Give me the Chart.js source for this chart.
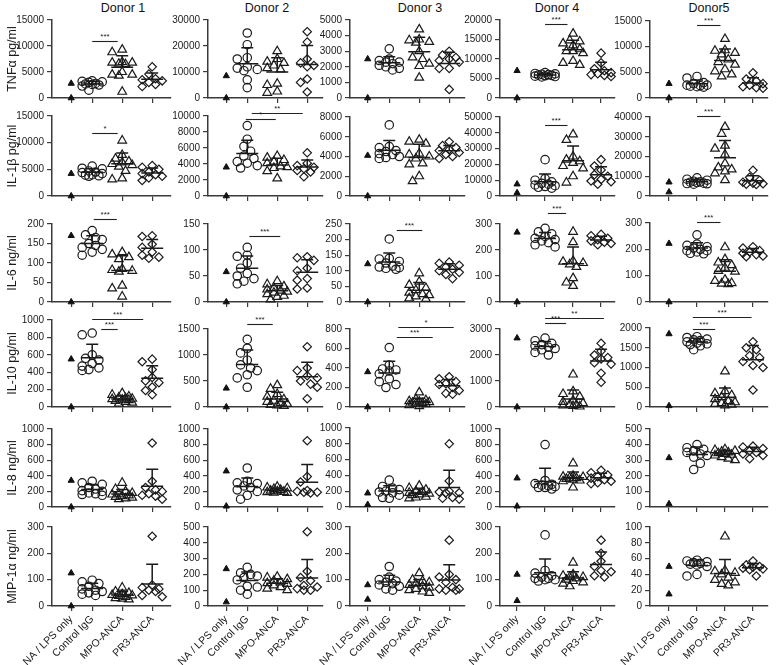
<!DOCTYPE html>
<html>
<head>
<meta charset="utf-8">
<script src="https://cdn.jsdelivr.net/npm/chart.js@4.4.1/dist/chart.umd.min.js"></script>
<style>
  body { margin: 0; background: #fff; }
  #fig { position: relative; width: 780px; height: 665px; overflow: hidden; font-family: 'Liberation Sans', Arial, sans-serif; }
  #fig canvas { position: absolute; }
  .donor { position: absolute; top: 1px; font-size: 12.5px; color: #111; transform: translateX(-50%); white-space: nowrap; }
</style>
</head>
<body>
<div id="fig"></div>
<script>
const donorNames = ['Donor 1', 'Donor 2', 'Donor 3', 'Donor 4', 'Donor5'];
const catLabels = ['NA / LPS only', 'Control IgG', 'MPO-ANCA', 'PR3-ANCA'];

// TNFa pg/ml
const tnfMax = [15000, 30000, 5000, 20000, 15000];
const tnfStep = [5000, 10000, 1000, 5000, 5000];
const tnfNA = [[0, 2800], [0, 8500], [0, 2500], [0, 7000], [0, 2800]];
const tnfCtl = [
  [3300, 3200, 3100, 3000, 2800, 2700, 2600, 2500, 2300, 1500],
  [25000, 20500, 15500, 15000, 12000, 11500, 11000, 10500, 7000, 4000],
  [3150, 2500, 2400, 2300, 2300, 2200, 2100, 2000, 1900, 1800],
  [6500, 6300, 6200, 6100, 6000, 5900, 5800, 5700, 5600, 5500, 5400],
  [4200, 3900, 3000, 2800, 2500, 2500, 2400, 2300, 2200, 2100]
];
const tnfMpo = [
  [9300, 8800, 6900, 6800, 6800, 6600, 6500, 5000, 4500, 4500, 4300, 1200],
  [18000, 15000, 14000, 13500, 12500, 11500, 11000, 5500, 5000, 2500, 2000],
  [4400, 3750, 3700, 3600, 3550, 3000, 2600, 2500, 2200, 2050, 1300],
  [16500, 14800, 14500, 14000, 13500, 12500, 12000, 12000, 11500, 9500, 9000, 8500],
  [11500, 9300, 9200, 8800, 8500, 7500, 7000, 6500, 5600, 5200, 4600, 4200]
];
const tnfPr3 = [
  [6000, 4600, 3700, 3500, 3300, 3000, 2600, 2200],
  [25500, 21500, 15000, 13500, 12500, 12000, 7300, 6000, 2300],
  [3000, 2750, 2600, 2500, 2400, 2300, 1900, 1900, 550],
  [11500, 9000, 7500, 7000, 6500, 6200, 6000, 5800, 5500],
  [4900, 3700, 3300, 2800, 2500, 2200, 2000, 1900]
];
const tnfSig = [[[1, 1.85, 10900, '***']], [], [], [[1, 1.8, 18900, '***']], [[1, 1.84, 14200, '***']]];

// IL-1b pg/ml
const ilbMax = [15000, 10000, 8000, 50000, 40000];
const ilbStep = [5000, 2000, 2000, 10000, 10000];
const ilbNA = [[0, 4200], [0, 3600], [0, 4100], [2000, 7500], [2000, 7000]];
const ilbCtl = [
  [5600, 5200, 5100, 4700, 4500, 4400, 4200, 4000, 3900, 3800, 3700],
  [8800, 7100, 6200, 5600, 5000, 4700, 4300, 4100, 3800, 3500],
  [7200, 5000, 4900, 4600, 4500, 4300, 4200, 4000, 3900, 3800],
  [23000, 11000, 10000, 9000, 8000, 7500, 7000, 6500, 6000, 5500, 5000],
  [9200, 8500, 8000, 7500, 7200, 7000, 6800, 6500, 6300, 6200, 6000]
];
const ilbMpo = [
  [10400, 7700, 7000, 6500, 6300, 6000, 5800, 5500, 4700, 3300, 3100],
  [5000, 4800, 4500, 4300, 4100, 3700, 3600, 3500, 3100, 2200],
  [5700, 5500, 5300, 4300, 4200, 4000, 3800, 3300, 3200, 2000, 1500],
  [39000, 35500, 25000, 23000, 22000, 21000, 19000, 17500, 12500, 8500],
  [35000, 31500, 25500, 24000, 21000, 16500, 14500, 13500, 12500, 11500, 8000]
];
const ilbPr3 = [
  [5700, 5400, 5000, 4500, 4200, 4000, 3700, 3400, 2900],
  [5400, 4100, 3800, 3600, 3400, 3200, 3000, 2400],
  [5500, 5100, 4900, 4700, 4600, 4400, 4200, 4000, 3800],
  [23000, 19000, 16500, 13500, 12500, 10500, 9500, 9000, 7500],
  [13000, 9500, 8000, 7000, 6500, 6200, 6000, 5800]
];
const ilbSig = [[[1, 1.85, 11900, '*']], [[0.95, 1.95, 9600, '*'], [1.15, 2.85, 10400, '**']], [], [[1, 1.8, 44800, '***']], [[1, 1.84, 40300, '***']]];

// IL-6 ng/ml
const il6Max = [200, 150, 250, 300, 300];
const il6Step = [50, 50, 50, 100, 100];
const il6NA = [[0, 170], [0, 58], [0, 122], [0, 268], [0, 222]];
const il6Ctl = [
  [183, 172, 165, 160, 150, 145, 140, 135, 128, 120],
  [105, 90, 88, 75, 65, 55, 50, 45, 40, 35],
  [202, 140, 138, 130, 125, 115, 112, 110, 108, 105],
  [283, 270, 262, 252, 245, 240, 235, 228, 220, 212],
  [255, 220, 215, 210, 205, 200, 195, 195, 190, 185, 183]
];
const il6Mpo = [
  [128, 122, 115, 110, 85, 82, 80, 78, 42, 35, 14],
  [40, 34, 30, 27, 24, 22, 20, 18, 15, 12, 10, 5],
  [92, 65, 55, 45, 38, 30, 25, 22, 18, 12, 10],
  [270, 230, 158, 155, 150, 145, 135, 92, 75, 62],
  [208, 163, 150, 140, 130, 118, 115, 85, 80, 72, 70, 68]
];
const il6Pr3 = [
  [170, 168, 148, 140, 128, 120, 115, 112],
  [87, 85, 80, 65, 60, 45, 42, 27, 25],
  [128, 124, 118, 112, 105, 100, 95, 88, 75],
  [260, 255, 245, 240, 235, 230, 225, 220],
  [210, 205, 195, 190, 185, 180, 175, 172]
];
const il6Sig = [[[1.05, 1.82, 212, '***']], [[1.07, 2.1, 126, '***']], [[1.25, 2.1, 231, '***']], [[1.1, 1.75, 343, '***']], [[1, 1.84, 304, '***']]];

// IL-10 pg/ml
const il10Max = [1000, 1500, 800, 3000, 2000];
const il10Step = [200, 500, 200, 1000, 500];
const il10NA = [[0, 550], [0, 360], [0, 360], [0, 2650], [30, 1850]];
const il10Ctl = [
  [850, 830, 600, 560, 540, 500, 470, 450, 430, 420],
  [1300, 1130, 1040, 900, 810, 750, 700, 620, 560, 380],
  [610, 430, 390, 380, 370, 340, 290, 260, 230, 200],
  [2650, 2550, 2450, 2400, 2350, 2300, 2250, 2200, 2100, 2000],
  [1780, 1760, 1720, 1700, 1680, 1650, 1620, 1600, 1580, 1550, 1450]
];
const il10Mpo = [
  [160, 140, 120, 110, 100, 95, 90, 85, 80, 70, 60, 50, 40],
  [420, 350, 250, 200, 150, 120, 100, 80, 60, 40, 30, 20],
  [150, 80, 70, 60, 55, 50, 45, 40, 35, 30, 20, 10],
  [1250, 600, 500, 400, 250, 200, 150, 100, 80, 60, 40, 20],
  [900, 400, 350, 300, 250, 200, 150, 120, 100, 80, 60, 40]
];
const il10Pr3 = [
  [550, 520, 430, 340, 300, 280, 230, 190, 140],
  [1160, 750, 700, 600, 560, 500, 440, 380, 160],
  [310, 290, 260, 240, 230, 200, 170, 140, 130],
  [2450, 2150, 2000, 1900, 1850, 1700, 1650, 1300, 950],
  [1650, 1500, 1450, 1300, 1250, 1150, 1050, 1000, 430]
];
const il10Sig = [
  [[1.3, 1.85, 894, '***'], [1, 2.7, 1007, '***']],
  [[1, 1.85, 1600, '***']],
  [[1.25, 2.45, 723, '***'], [1.3, 3.15, 817, '*']],
  [[1, 1.75, 3215, '***'], [1, 3.1, 3440, '**']],
  [[0.85, 1.65, 1980, '***'], [0.85, 2.95, 2270, '***']]
];

// IL-8 ng/ml
const il8Max = [1000, 1000, 1000, 1000, 500];
const il8Step = [200, 200, 200, 200, 100];
const il8NA = [[0, 340], [10, 460], [30, 175], [10, 370], [20, 315]];
const il8Ctl = [
  [330, 310, 290, 250, 230, 210, 200, 180, 170, 160, 150],
  [500, 330, 310, 300, 270, 250, 220, 200, 150, 100],
  [340, 260, 240, 220, 200, 190, 180, 150, 120, 110],
  [800, 340, 300, 290, 280, 270, 260, 250, 250, 230],
  [400, 380, 370, 360, 350, 340, 330, 320, 280, 240]
];
const il8Mpo = [
  [310, 230, 200, 180, 170, 160, 150, 140, 130, 120, 110, 100],
  [260, 250, 240, 230, 220, 210, 200, 195, 190, 185, 180],
  [270, 240, 220, 200, 190, 180, 170, 160, 150, 130, 120, 110],
  [560, 400, 390, 385, 375, 370, 360, 350, 340, 330, 250],
  [370, 365, 360, 355, 350, 345, 340, 335, 330, 320, 310, 300]
];
const il8Pr3 = [
  [820, 330, 250, 220, 200, 170, 150, 140, 100],
  [850, 390, 320, 210, 200, 190, 190, 180],
  [800, 330, 200, 190, 180, 180, 120, 110, 100],
  [470, 440, 410, 390, 370, 350, 330, 310, 300],
  [390, 385, 375, 360, 350, 340, 330, 310]
];
const il8Sig = [[], [], [], [], []];

// MIP-1a ng/ml
const mipMax = [300, 500, 300, 300, 100];
const mipStep = [100, 100, 100, 100, 20];
const mipNA = [[0, 125], [25, 235], [25, 80], [20, 120], [15, 50]];
const mipCtl = [
  [98, 92, 85, 75, 65, 60, 55, 50, 45, 40],
  [245, 210, 200, 190, 180, 165, 125, 120, 100, 75],
  [150, 110, 100, 95, 90, 85, 80, 75, 65, 60],
  [270, 135, 125, 115, 110, 105, 105, 100, 100, 95],
  [58, 57, 56, 55, 54, 53, 52, 50, 40, 38]
];
const mipMpo = [
  [70, 55, 50, 45, 42, 40, 38, 35, 30, 28, 25],
  [185, 180, 170, 160, 150, 145, 140, 130, 120, 110, 100],
  [125, 100, 95, 90, 85, 80, 75, 70, 65, 60, 55, 50],
  [165, 120, 115, 110, 110, 105, 100, 95, 90, 85, 75],
  [88, 45, 44, 42, 40, 36, 33, 30, 28, 26]
];
const mipPr3 = [
  [265, 80, 70, 65, 60, 55, 40, 35],
  [470, 220, 180, 160, 130, 120, 110, 100, 100],
  [250, 120, 110, 100, 90, 70, 65, 65, 60, 60],
  [250, 200, 170, 150, 135, 130, 115, 110],
  [57, 52, 50, 49, 48, 47, 46, 38]
];
const mipSig = [[], [], [], [], []];

const rows = [
  { title: 'TNFα pg/ml', max: tnfMax, step: tnfStep, na: tnfNA, ctl: tnfCtl, mpo: tnfMpo, pr3: tnfPr3, sig: tnfSig },
  { title: 'IL-1β pg/ml', max: ilbMax, step: ilbStep, na: ilbNA, ctl: ilbCtl, mpo: ilbMpo, pr3: ilbPr3, sig: ilbSig },
  { title: 'IL-6 ng/ml', max: il6Max, step: il6Step, na: il6NA, ctl: il6Ctl, mpo: il6Mpo, pr3: il6Pr3, sig: il6Sig },
  { title: 'IL-10 pg/ml', max: il10Max, step: il10Step, na: il10NA, ctl: il10Ctl, mpo: il10Mpo, pr3: il10Pr3, sig: il10Sig },
  { title: 'IL-8 ng/ml', max: il8Max, step: il8Step, na: il8NA, ctl: il8Ctl, mpo: il8Mpo, pr3: il8Pr3, sig: il8Sig },
  { title: 'MIP-1α ng/ml', max: mipMax, step: mipStep, na: mipNA, ctl: mipCtl, mpo: mipMpo, pr3: mipPr3, sig: mipSig }
];

// panel layout
const colAxis = [52, 208, 350, 500, 650];
const colEnd = [173, 325, 467, 617, 770];
const xMin = [-0.34, -0.31, -0.31, -0.61, -0.68];
const xMax = [3.62, 3.52, 3.52, 3.49, 3.53];
const naPos = [0.3, 0.3, 0.28, 0, 0];
const headerX = [123, 267, 420, 557, 709];
const panelTop = [
  [20, 20, 20, 20, 21],
  [116, 116, 117, 117, 117],
  [224, 224, 224, 224, 223],
  [320, 329, 329, 329, 328],
  [429, 429, 428, 429, 429],
  [527, 527, 527, 527, 527]
];
const panelZero = [99, 197, 303, 408, 508, 606];

const ink = '#1a1a1a';
const axisCol = '#3a3a3a';
Chart.defaults.font.family = "'Liberation Sans', Arial, sans-serif";
Chart.defaults.color = ink;

// spread points sideways so they don't pile up (scatter dot plot look)
function swarm(vals, cx, unit, pxPer) {
  const placed = [];
  const steps = [0, -1, 1, -2, 2, -3, 3];
  vals.forEach(v => {
    const yp = v * pxPer;
    let best = 0, bestD = -1;
    for (const s of steps) {
      const xp = s * 3.4;
      let d = Infinity;
      placed.forEach(p => { d = Math.min(d, Math.hypot(p.xp - xp, p.yp - yp)); });
      if (d >= 7.5) { best = xp; break; }
      if (d > bestD) { bestD = d; best = xp; }
    }
    placed.push({ xp: best, yp: yp });
  });
  return placed.map((p, i) => ({ x: cx + p.xp / unit, y: vals[i] }));
}

// mean line with the upper SD whisker
const summaryPlugin = {
  id: 'summary',
  afterDatasetsDraw(chart) {
    const { ctx, scales: { x, y } } = chart;
    chart.data.datasets.forEach(ds => {
      if (ds.cx === undefined) return;
      const v = ds.data.map(p => p.y);
      const m = v.reduce((a, b) => a + b, 0) / v.length;
      const sd = Math.sqrt(v.reduce((a, b) => a + (b - m) * (b - m), 0) / (v.length - 1));
      const px = x.getPixelForValue(ds.cx);
      const ym = y.getPixelForValue(m);
      const yt = y.getPixelForValue(m + sd);
      ctx.save();
      ctx.strokeStyle = ink;
      ctx.lineWidth = 1.5;
      ctx.beginPath();
      ctx.moveTo(px - 11, ym); ctx.lineTo(px + 11, ym);
      ctx.moveTo(px, ym); ctx.lineTo(px, yt);
      ctx.moveTo(px - 6, yt); ctx.lineTo(px + 6, yt);
      ctx.stroke();
      ctx.restore();
    });
  }
};

// significance lines with asterisks
const sigPlugin = {
  id: 'sig',
  afterDraw(chart, args, opts) {
    const { ctx, scales: { x, y } } = chart;
    (opts.list || []).forEach(([a, b, val, label]) => {
      const x1 = x.getPixelForValue(a), x2 = x.getPixelForValue(b);
      const yy = Math.round(y.getPixelForValue(val)) + 0.5;
      ctx.save();
      ctx.strokeStyle = '#222';
      ctx.lineWidth = 1.1;
      ctx.beginPath(); ctx.moveTo(x1, yy); ctx.lineTo(x2, yy); ctx.stroke();
      ctx.fillStyle = '#222';
      ctx.font = "8px 'Liberation Sans', Arial, sans-serif";
      ctx.textAlign = 'center';
      ctx.textBaseline = 'bottom';
      ctx.fillText(label, (x1 + x2) / 2, yy - 1);
      ctx.restore();
    });
  }
};

const fig = document.getElementById('fig');
donorNames.forEach((n, c) => {
  const d = document.createElement('div');
  d.className = 'donor';
  d.style.left = headerX[c] + 'px';
  d.textContent = n;
  fig.appendChild(d);
});

rows.forEach((row, r) => {
  const isBottom = r === rows.length - 1;
  for (let c = 0; c < 5; c++) {
    const top = panelTop[r][c];
    const plotH = panelZero[r] - top;
    const plotW = colEnd[c] - colAxis[c];
    const leftW = c === 0 ? colAxis[0] : 44;
    const padTop = 22, padRight = 4;
    const bottomH = isBottom ? 66 : 8;
    const W = leftW + plotW + padRight, H = padTop + plotH + bottomH;
    const cv = document.createElement('canvas');
    cv.width = W; cv.height = H;
    cv.style.width = W + 'px'; cv.style.height = H + 'px';
    cv.style.left = (colAxis[c] - leftW) + 'px';
    cv.style.top = (top - padTop) + 'px';
    fig.appendChild(cv);

    const unit = plotW / (xMax[c] - xMin[c]);
    const pxPer = plotH / row.max[c];
    const cats = [naPos[c], 1, 2, 3];
    const open = { backgroundColor: 'rgba(255,255,255,0)', borderColor: ink, borderWidth: 1.2, clip: false };

    const datasets = [
      { data: row.na[c].map(v => ({ x: naPos[c], y: v })), pointStyle: 'triangle', pointRadius: 3.6,
        backgroundColor: '#111', borderColor: '#111', borderWidth: 1, clip: false },
      Object.assign({ data: swarm(row.ctl[c], 1, unit, pxPer), pointStyle: 'circle', pointRadius: 4.2, cx: 1 }, open),
      Object.assign({ data: swarm(row.mpo[c], 2, unit, pxPer), pointStyle: 'triangle', pointRadius: 5, cx: 2 }, open),
      Object.assign({ data: swarm(row.pr3[c], 3, unit, pxPer), pointStyle: 'rectRot', pointRadius: 4.2, cx: 3 }, open)
    ];

    const tickGrid = { display: true, drawOnChartArea: false, drawTicks: true, tickLength: 5, color: axisCol, lineWidth: 1.2 };
    const border = { display: true, color: axisCol, width: 1.5 };

    new Chart(cv, {
      type: 'scatter',
      data: { datasets: datasets },
      options: {
        responsive: false,
        maintainAspectRatio: false,
        animation: false,
        devicePixelRatio: 1,
        events: [],
        layout: { padding: { top: padTop, right: padRight, left: 0, bottom: 0 } },
        plugins: { legend: { display: false }, tooltip: { enabled: false }, sig: { list: row.sig[c] } },
        scales: {
          x: {
            type: 'linear', min: xMin[c], max: xMax[c],
            afterBuildTicks: s => { s.ticks = cats.map(v => ({ value: v })); },
            afterFit: s => { s.height = bottomH; },
            grid: tickGrid, border: border,
            ticks: {
              display: isBottom, autoSkip: false, minRotation: 45, maxRotation: 45, padding: 2,
              font: { size: 10.5 }, color: ink,
              callback: (v, i) => catLabels[i]
            }
          },
          y: {
            min: 0, max: row.max[c],
            afterFit: s => { s.width = leftW; },
            grid: tickGrid, border: border,
            ticks: { stepSize: row.step[c], padding: 3, font: { size: 10 }, color: ink, callback: v => String(v) },
            title: { display: c === 0, text: row.title, font: { size: 12.5 }, color: ink, padding: { top: 5, bottom: 0 } }
          }
        }
      },
      plugins: [summaryPlugin, sigPlugin]
    });
  }
});
</script>
</body>
</html>
